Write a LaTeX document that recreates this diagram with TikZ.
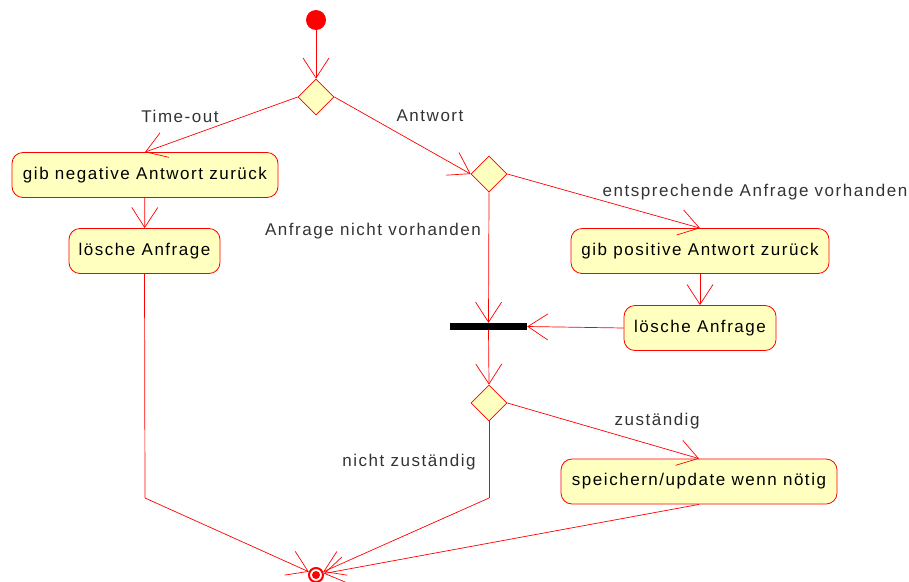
\documentclass[tikz,border=0pt]{standalone}
\usepackage{fontspec}
\setmainfont{Liberation Sans}
\newfontfamily\umlschrift[LetterSpace=9]{Liberation Sans}
\usetikzlibrary{arrows.meta,shapes.geometric,positioning,calc}

\definecolor{umlred}{RGB}{255,0,0}
\definecolor{umlfill}{RGB}{255,255,192}
\definecolor{labelgray}{RGB}{51,51,51}

\tikzset{
  aktion/.style={draw=umlred, line width=0.8pt, fill=umlfill, rounded corners=11pt, minimum height=45pt, inner xsep=0pt, font=\umlschrift\fontsize{17}{19}\selectfont},
  entscheid/.style={draw=umlred, line width=0.8pt, fill=umlfill, diamond, minimum size=36pt, inner sep=0pt},
  fluss/.style={draw=umlred, line width=0.7pt, -{Straight Barb[length=20pt,width=26pt,line width=0.7pt]}},
  linie/.style={draw=umlred, line width=0.7pt},
  bedingung/.style={text=labelgray, font=\umlschrift\fontsize{17}{19}\selectfont}
}

\begin{document}
\begin{tikzpicture}[x=1pt, y=-1pt]
\useasboundingbox (0,0) rectangle (909,581);

% Start und Ende
\node[circle, fill=umlred, minimum size=20pt, inner sep=0pt] (start) at (316,20) {};
\node[circle, draw=umlred, line width=2pt, minimum size=14pt, inner sep=0pt] (ende) at (316,575) {};
\fill[umlred] (ende.center) circle (4pt);

% Entscheidungen
\node[entscheid] (d1) at (316,97) {};
\node[entscheid] (d2) at (489,174) {};
\node[entscheid] (d3) at (489,403) {};

% Synchronisationsbalken
\node[fill=black, minimum width=77pt, minimum height=7pt, inner sep=0pt] (balken) at (488.5,326.5) {};

% Aktionen
\node[aktion, minimum width=266pt] (negativ) at (145,175) {gib negative Antwort zurück};
\node[aktion, minimum width=151pt] (loeschL) at (144.5,251) {lösche Anfrage};
\node[aktion, minimum width=258pt] (positiv) at (700,251) {gib positive Antwort zurück};
\node[aktion, minimum width=152pt] (loeschR) at (700,328) {lösche Anfrage};
\node[aktion, minimum width=276pt] (speichern) at (699,481.5) {speichern/update wenn nötig};

% Knickpunkte
\coordinate (knickL) at (145,498);
\coordinate (knickM) at (489,498);

% Flüsse
\draw[fluss] (start) -- (d1.north);
\draw[fluss] (d1.west) -- (negativ.north);
\draw[fluss] (d1.east) -- (d2.west);
\draw[fluss] (negativ) -- (loeschL);
\draw[fluss] (d2.east) -- (positiv.north);
\draw[fluss] (positiv) -- (loeschR);
\draw[fluss] (d2.south) -- (balken.north);
\draw[fluss] (loeschR.west) -- (balken.east);
\draw[fluss] (balken.south) -- (d3.north);
\draw[fluss] (d3.east) -- (speichern.north);
\draw[linie] (loeschL.south) -- (knickL);
\draw[fluss] (knickL) -- (ende);
\draw[linie] (d3.south) -- (knickM);
\draw[fluss] (knickM) -- (ende);
\draw[fluss] (speichern.south) -- (ende);

% Bedingungen
\node[bedingung] (lTimeout) at (180,116) {Time-out};
\node[bedingung] (lAntwort) at (430,116) {Antwort};
\node[bedingung] (lVorhanden) at (755,192) {entsprechende Anfrage vorhanden};
\node[bedingung] (lNicht) at (373,231) {Anfrage nicht vorhanden};
\node[bedingung] (lZust) at (657,421) {zuständig};
\node[bedingung] (lNichtZust) at (409,462) {nicht zuständig};
\end{tikzpicture}
\end{document}
